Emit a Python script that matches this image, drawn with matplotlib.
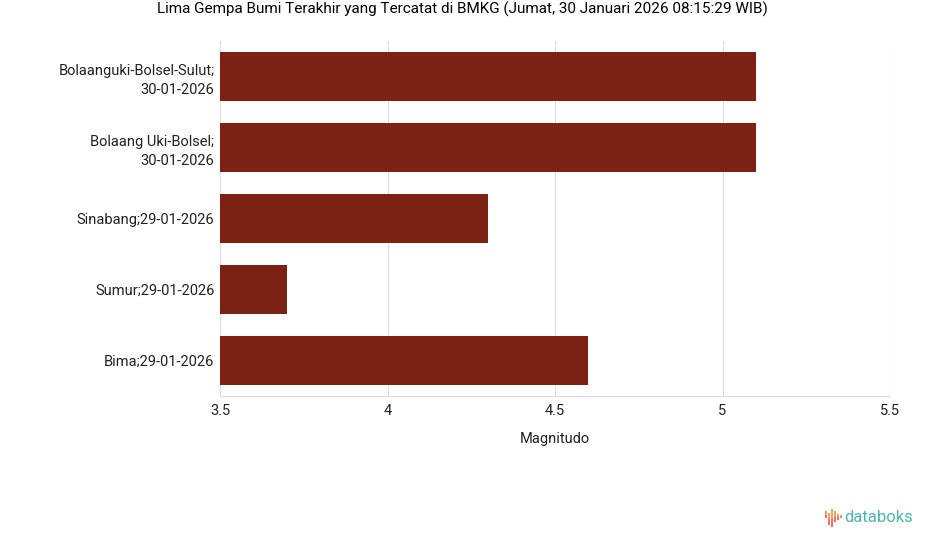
import matplotlib
matplotlib.use("Agg")
import matplotlib.pyplot as plt
from matplotlib.patches import Rectangle

categories = ["Bolaanguki-Bolsel-Sulut;\n30-01-2026", "Bolaang Uki-Bolsel;\n30-01-2026",
              "Sinabang;29-01-2026", "Sumur;29-01-2026", "Bima;29-01-2026"]
values = [5.1, 5.1, 4.3, 3.7, 4.6]
xticks = [3.5, 4, 4.5, 5, 5.5]
xtick_labels = ["3.5", "4", "4.5", "5", "5.5"]

plt.rcParams['font.family'] = ['Roboto', 'DejaVu Sans']

fig = plt.figure(figsize=(9.25, 5.47), dpi=100)
ax = fig.add_axes([220/925, 1-396/547, 670/925, 355/547])

base = 3.5
ypos = list(range(len(categories)))
ax.barh(ypos, [v - base for v in values], left=base, height=0.69, color="#7B2214", zorder=3)
ax.set_ylim(len(categories) - 0.5, -0.5)
ax.set_xlim(3.5, 5.5)
ax.set_xticks(xticks)
ax.set_xticklabels(xtick_labels, fontsize=10.5, color="#222222")
ax.set_yticks(ypos)
ax.set_yticklabels(categories, fontsize=10.5, color="#222222", linespacing=1.45)
ax.tick_params(axis='x', length=0, pad=6)
ax.tick_params(axis='y', length=0, pad=4)
ax.grid(axis='x', color="#dddddd", linewidth=0.8, zorder=0)
for s in ["top", "right"]:
    ax.spines[s].set_visible(False)
for s in ["left", "bottom"]:
    ax.spines[s].set_color("#dddddd")
    ax.spines[s].set_linewidth(0.8)
ax.set_xlabel("Magnitudo", fontsize=10.5, color="#222222", labelpad=10)

fig.text(0.5, 1-9/547, "Lima Gempa Bumi Terakhir yang Tercatat di BMKG (Jumat, 30 Januari 2026 08:15:29 WIB)",
         ha="center", va="center", fontsize=11, color="#000000")

# logo
bars = [(825, 511, 518), (828, 513, 525), (831, 509, 527), (834, 511, 522), (837, 514, 520), (840, 515, 518)]
for x, top, bot in bars:
    mid = (top + bot) / 2
    fig.patches.append(Rectangle((x/925, 1-mid/547), 2.0/925, (mid-top)/547,
                                 transform=fig.transFigure, facecolor="#F5A05A", lw=0))
    fig.patches.append(Rectangle((x/925, 1-bot/547), 2.0/925, (bot-mid)/547,
                                 transform=fig.transFigure, facecolor="#EF6F6C", lw=0))
fig.text(844/925, 1-518/547, "databoks", fontsize=12, color="#4DB6AC", ha="left", va="center")

fig.savefig("out.png", dpi=100)
